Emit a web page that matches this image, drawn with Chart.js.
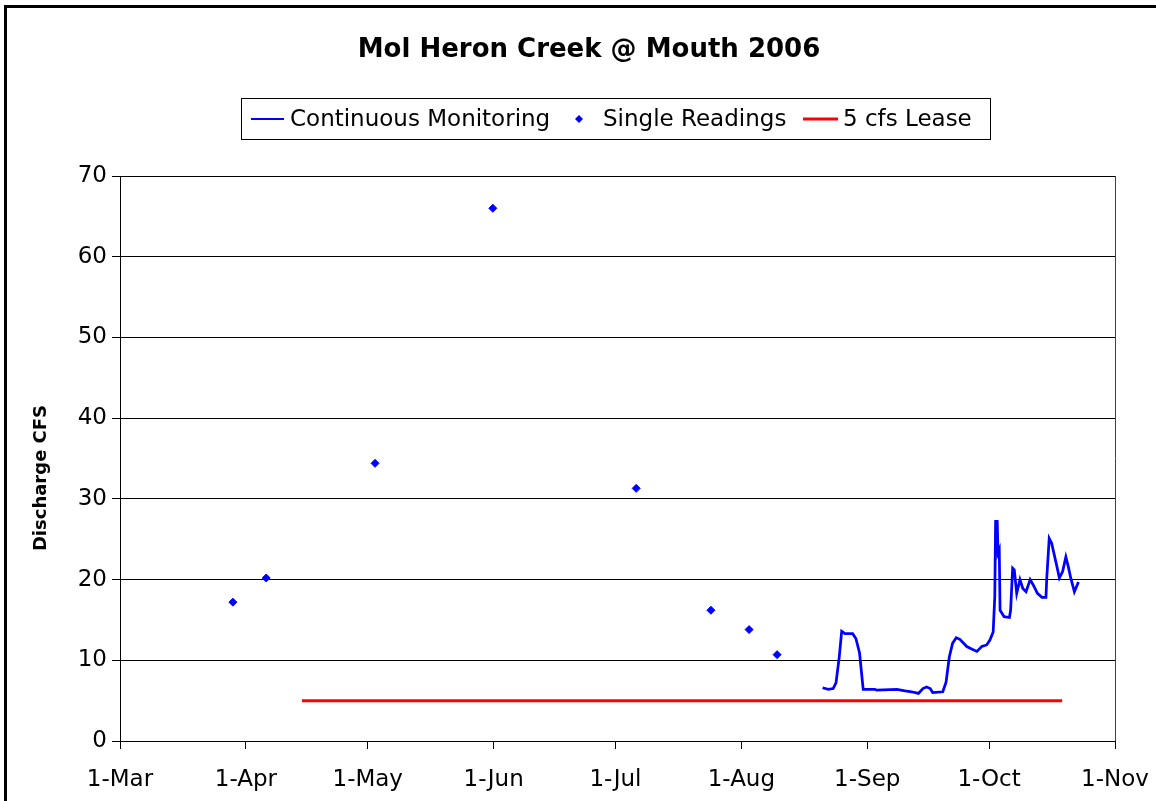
<!DOCTYPE html>
<html>
<head>
<meta charset="utf-8">
<title>Mol Heron Creek @ Mouth 2006</title>
<script src="https://cdn.jsdelivr.net/npm/chart.js@4.4.1/dist/chart.umd.min.js"></script>
<style>
  html, body { margin: 0; padding: 0; background: #fff; }
  #wrap { width: 1156px; height: 801px; }
</style>
</head>
<body>
<div id="wrap"><canvas id="chart" width="1156" height="801"></canvas></div>
<script>
// x values are days counted from 1-Mar-2006
const monthLabels = ["1-Mar", "1-Apr", "1-May", "1-Jun", "1-Jul", "1-Aug", "1-Sep", "1-Oct", "1-Nov"];
const monthDays = [0, 31, 61, 92, 122, 153, 184, 214, 245];

const singleDays = [27.8, 36.0, 62.8, 91.8, 127.1, 145.5, 154.9, 161.8];
const singleCfs = [17.2, 20.2, 34.4, 66.0, 31.3, 16.2, 13.8, 10.7];

const contDays = [173.0, 174.4, 175.6, 176.3, 177.1, 177.7, 178.5, 179.6, 180.4, 181.2,
  182.1, 183.0, 185.9, 186.3, 191.3, 193.3, 194.9, 196.6, 197.7, 198.6,
  199.5, 200.1, 202.6, 203.4, 204.2, 205.0, 205.9, 206.8, 208.5, 209.7,
  211.0, 212.2, 213.4, 214.2, 215.0, 215.4, 215.6, 216.0, 216.2, 216.5,
  216.7, 217.7, 219.0, 219.3, 219.8, 220.2, 220.8, 221.6, 222.3, 223.1,
  224.1, 224.9, 225.9, 227.0, 228.0, 228.2, 228.8, 229.4, 230.7, 231.3,
  232.1, 232.9, 233.5, 234.1, 235.0, 236.0];
const contCfs = [6.6, 6.4, 6.5, 7.2, 10.4, 13.6, 13.3, 13.3, 13.3, 12.7,
  10.9, 6.4, 6.4, 6.3, 6.4, 6.2, 6.1, 5.9, 6.5, 6.7,
  6.5, 6.0, 6.1, 7.3, 10.4, 12.1, 12.8, 12.6, 11.7, 11.4,
  11.1, 11.7, 11.9, 12.5, 13.5, 17.9, 27.2, 27.2, 23.3, 23.7,
  16.2, 15.4, 15.3, 16.2, 21.4, 21.2, 18.3, 20.0, 18.9, 18.5,
  20.0, 19.3, 18.3, 17.8, 17.8, 20.2, 25.1, 24.5, 21.6, 20.2,
  21.0, 22.8, 21.6, 20.2, 18.5, 19.7];

const leaseDays = [44.8, 232.0];
const leaseCfs = [5, 5];

const yTicks = [0, 10, 20, 30, 40, 50, 60, 70];

const pts = (xs, ys) => xs.map((x, i) => ({ x: x, y: ys[i] }));

const FONT = "'DejaVu Sans', 'Liberation Sans', Arial, sans-serif";

// title, legend box, axis title and outer frame
const decorations = {
  id: "decorations",
  afterDraw(chart) {
    const ctx = chart.ctx;
    const area = chart.chartArea;
    ctx.save();

    // outer frame (left and top edges visible)
    ctx.strokeStyle = "#000";
    ctx.lineWidth = 3;
    ctx.beginPath();
    ctx.moveTo(5.5, 801);
    ctx.lineTo(5.5, 6.5);
    ctx.lineTo(1156, 6.5);
    ctx.stroke();

    // right edge of plot area
    ctx.lineWidth = 1;
    ctx.strokeStyle = "#404040";
    ctx.beginPath();
    ctx.moveTo(area.right + 0.5, area.top);
    ctx.lineTo(area.right + 0.5, area.bottom);
    ctx.stroke();

    // title
    ctx.fillStyle = "#000";
    ctx.font = "bold 26px " + FONT;
    ctx.textAlign = "center";
    ctx.textBaseline = "middle";
    ctx.fillText("Mol Heron Creek @ Mouth 2006", 589, 50);

    // y axis title
    ctx.save();
    ctx.translate(41, 478);
    ctx.rotate(-Math.PI / 2);
    ctx.font = "bold 18px " + FONT;
    ctx.fillText("Discharge CFS", 0, 0);
    ctx.restore();

    // legend
    const ly = 119;
    ctx.strokeStyle = "#000";
    ctx.lineWidth = 1;
    ctx.strokeRect(241.5, 98.5, 749, 41);

    ctx.font = "23px " + FONT;
    ctx.textAlign = "left";
    ctx.fillStyle = "#000";

    ctx.strokeStyle = "#0000FF";
    ctx.lineWidth = 2;
    ctx.beginPath();
    ctx.moveTo(251, ly);
    ctx.lineTo(284, ly);
    ctx.stroke();
    ctx.fillText("Continuous Monitoring", 290, ly + 1);

    ctx.fillStyle = "#0000FF";
    ctx.beginPath();
    ctx.moveTo(579, ly - 4);
    ctx.lineTo(583, ly);
    ctx.lineTo(579, ly + 4);
    ctx.lineTo(575, ly);
    ctx.closePath();
    ctx.fill();
    ctx.fillStyle = "#000";
    ctx.fillText("Single Readings", 603, ly + 1);

    ctx.strokeStyle = "#FF0000";
    ctx.lineWidth = 3;
    ctx.beginPath();
    ctx.moveTo(803, ly);
    ctx.lineTo(838, ly);
    ctx.stroke();
    ctx.fillText("5 cfs Lease", 843, ly + 1);

    ctx.restore();
  }
};

new Chart(document.getElementById("chart"), {
  type: "line",
  data: {
    datasets: [
      {
        label: "Continuous Monitoring",
        data: pts(contDays, contCfs),
        borderColor: "#0000FF",
        backgroundColor: "#0000FF",
        borderWidth: 2.75,
        pointRadius: 0,
        tension: 0,
        fill: false
      },
      {
        label: "Single Readings",
        data: pts(singleDays, singleCfs),
        showLine: false,
        pointStyle: "rectRot",
        pointRadius: 4,
        pointBorderWidth: 1,
        borderColor: "#0000FF",
        backgroundColor: "#0000FF"
      },
      {
        label: "5 cfs Lease",
        data: pts(leaseDays, leaseCfs),
        borderColor: "#FF0000",
        backgroundColor: "#FF0000",
        borderWidth: 3,
        pointRadius: 0,
        fill: false
      }
    ]
  },
  options: {
    responsive: false,
    animation: false,
    devicePixelRatio: 1,
    layout: { padding: { top: 176, right: 41, left: 0, bottom: 0 } },
    plugins: {
      legend: { display: false },
      title: { display: false },
      tooltip: { enabled: false }
    },
    scales: {
      x: {
        type: "linear",
        min: monthDays[0],
        max: monthDays[monthDays.length - 1],
        afterBuildTicks(scale) {
          scale.ticks = monthDays.map(v => ({ value: v }));
        },
        afterFit(scale) {
          scale.height = 60;
          // let the last label hang into the right margin
          scale.paddingLeft = 0;
          scale.paddingRight = 0;
        },
        grid: {
          drawOnChartArea: false,
          drawTicks: true,
          tickLength: 8,
          color: "#000"
        },
        border: { display: true, color: "#000", width: 1 },
        ticks: {
          autoSkip: false,
          maxRotation: 0,
          padding: 17,
          color: "#000",
          font: { family: FONT, size: 23 },
          callback(value) {
            const i = monthDays.indexOf(value);
            return i >= 0 ? monthLabels[i] : "";
          }
        }
      },
      y: {
        min: yTicks[0],
        max: yTicks[yTicks.length - 1],
        afterBuildTicks(scale) {
          scale.ticks = yTicks.map(v => ({ value: v }));
        },
        afterFit(scale) { scale.width = 120; },
        grid: {
          color: "#000",
          lineWidth: 1,
          drawTicks: true,
          tickLength: 8
        },
        border: { display: true, color: "#000", width: 1 },
        ticks: {
          padding: 5,
          color: "#000",
          font: { family: FONT, size: 23 }
        },
        title: { display: false }
      }
    }
  },
  plugins: [decorations]
});
</script>
</body>
</html>
